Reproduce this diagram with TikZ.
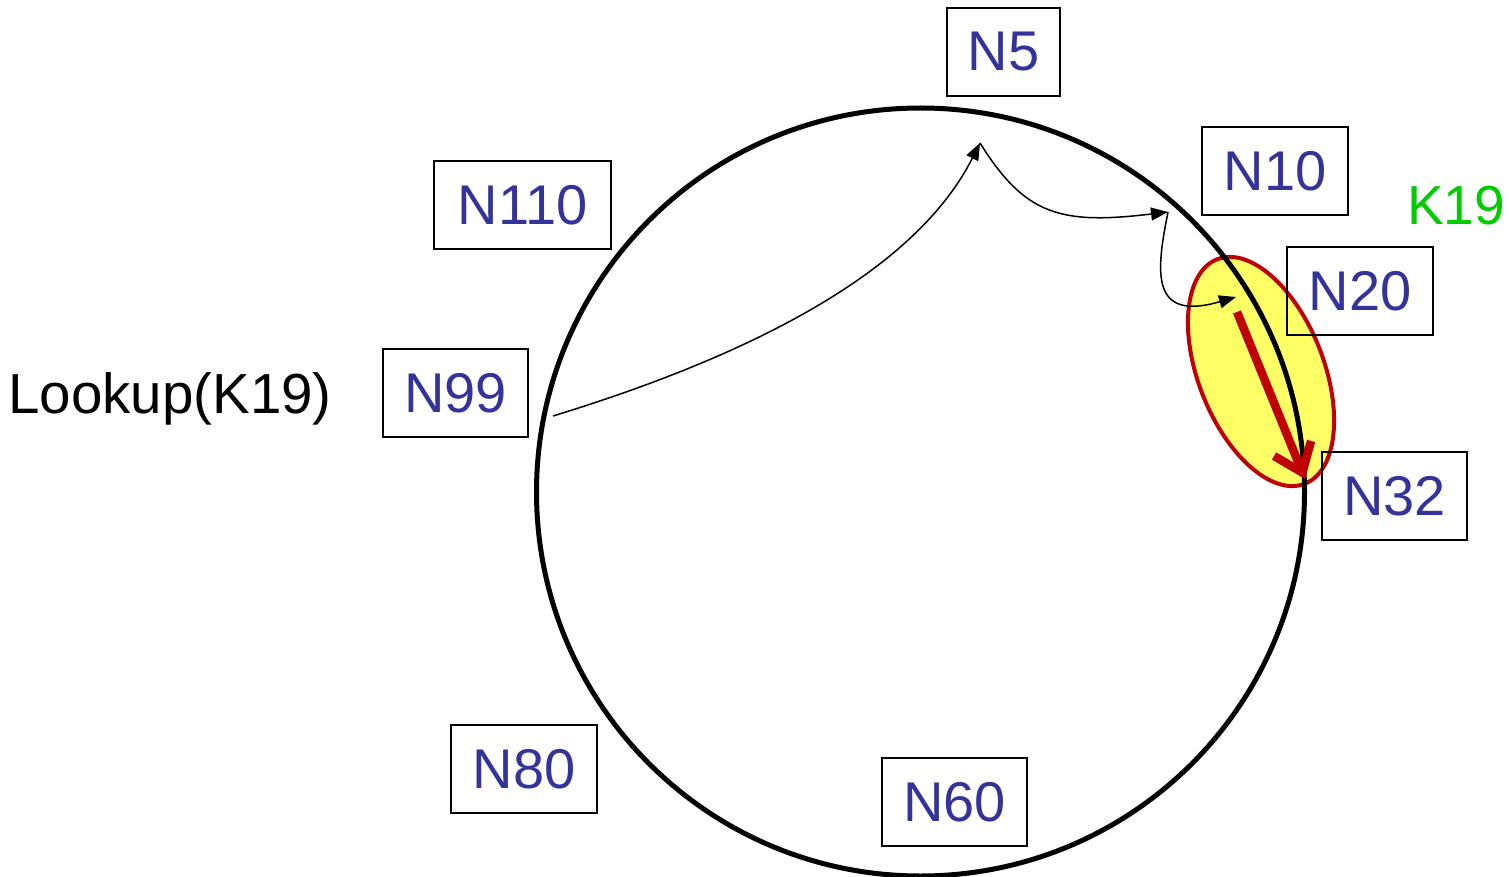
\documentclass[tikz,border=0pt]{standalone}
\usepackage{fontspec}
\setmainfont{Liberation Sans}
\usetikzlibrary{arrows.meta}
\definecolor{nodeblue}{RGB}{51,51,153}
\definecolor{keygreen}{RGB}{0,204,0}
\definecolor{hired}{RGB}{192,0,0}
\definecolor{hiyellow}{RGB}{255,255,102}
\tikzset{
  nodebox/.style={draw=black, line width=2pt, text=nodeblue, minimum height=88pt, inner sep=0pt,
    font=\fontsize{56}{60}\selectfont},
  hop/.style={line width=1.5pt, -{Triangle[length=17pt,width=13pt]}},
  ring/.style={line width=5pt},
}
\begin{document}
\begin{tikzpicture}[x=1pt,y=-1pt]
\useasboundingbox (0,0) rectangle (1509,877);
% highlight ellipse
\filldraw[fill=hiyellow, draw=hired, line width=4pt]
  (1261,371.5) ellipse [x radius=120.5pt, y radius=62.8pt, rotate=-68.7];
% ring
\draw[ring] (920.5,492) circle [radius=384pt];
% nodes
\node[nodebox, minimum width=113pt] (n5)   at (1003.5,52) {N5};
\node[nodebox, minimum width=146pt] (n10)  at (1275,171)  {N10};
\node[nodebox, minimum width=177pt] (n110) at (522.5,205) {N110};
\node[nodebox, minimum width=146pt] (n20)  at (1360,291)  {N20};
\node[nodebox, minimum width=145pt] (n99)  at (455.5,393) {N99};
\node[nodebox, minimum width=145pt] (n32)  at (1394.5,496) {N32};
\node[nodebox, minimum width=146pt] (n80)  at (524,769)   {N80};
\node[nodebox, minimum width=145pt] (n60)  at (954.5,802) {N60};
\node[anchor=base west, inner sep=0pt, font=\fontsize{56.5}{60}\selectfont] (lookup) at (8,413) {Lookup(K19)};
\node[anchor=base west, inner sep=0pt, text=keygreen, font=\fontsize{55}{60}\selectfont] (k19) at (1407,225) {K19};
% hop points
\coordinate (p99) at (553,416);
\coordinate (p5)  at (980,143);
\coordinate (p10) at (1168,212);
\coordinate (p20) at (1236,297);
\coordinate (r1)  at (1237,312);
\coordinate (p32) at (1305,479);
% hops
\draw[hop] (p99) .. controls (775,348) and (920,262) .. (p5);
\draw[hop] (p5) .. controls (1025,215) and (1060,225) .. (p10);
\draw[hop] (p10) .. controls (1156,272) and (1150,322) .. (p20);
% final hop
\draw[draw=hired, line width=8.5pt, -{Straight Barb[length=26pt,width=40pt]}] (r1) -- (p32);
\end{tikzpicture}
\end{document}
